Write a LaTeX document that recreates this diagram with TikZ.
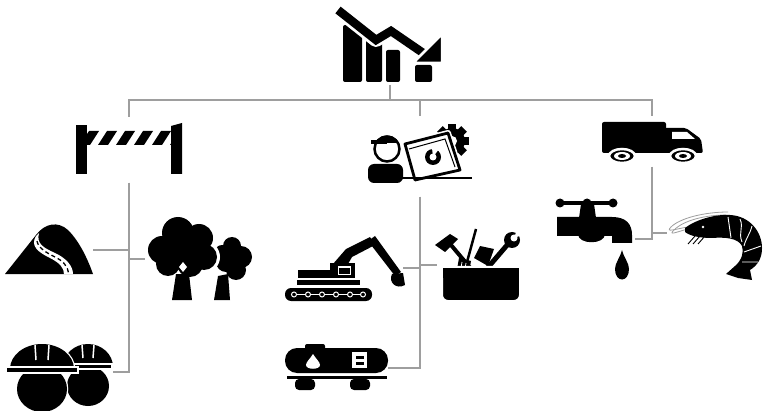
\documentclass[tikz,border=0pt]{standalone}
\usepackage{tikz}
\usetikzlibrary{positioning}
\definecolor{linkgray}{RGB}{158,158,158}

\begin{document}
\begin{tikzpicture}[
  x=1pt, y=-1pt,
  ico/.style={rectangle, inner sep=0pt, outer sep=0pt},
  link/.style={draw=linkgray, line width=2.2pt},
  halo/.style={draw=white, line width=2.5pt}
]
\useasboundingbox[fill=white] (0,0) rectangle (767,411);

% icon frames, used as anchors for the links
\node[ico, minimum width=104pt, minimum height=80pt] (chart)   at (390,45)    {};
\node[ico, minimum width=106pt, minimum height=66pt] (barrier) at (129,150)   {};
\node[ico, minimum width=104pt, minimum height=81pt] (worker)  at (420,156.5) {};
\node[ico, minimum width=101pt, minimum height=51pt] (truck)   at (652,141.5) {};
\node[ico, minimum width=88pt,  minimum height=56pt] (road)    at (49,250)    {};
\node[ico, minimum width=107pt, minimum height=84pt] (trees)   at (198.5,259) {};
\node[ico, minimum width=110pt, minimum height=66pt] (helmets) at (58,372)    {};
\node[ico, minimum width=120pt, minimum height=66pt] (excav)   at (343,268)   {};
\node[ico, minimum width=86pt,  minimum height=76pt] (tools)   at (480,265)   {};
\node[ico, minimum width=104pt, minimum height=46pt] (tanker)  at (336,368)   {};
\node[ico, minimum width=80pt,  minimum height=90pt] (tap)     at (595,239)   {};
\node[ico, minimum width=94pt,  minimum height=70pt] (shrimp)  at (714,233)   {};
\coordinate (bus) at (390,100);

\draw[link] (chart.south) -- (bus);
\draw[link] (barrier.north) |- (bus);
\draw[link] (worker.north) |- (bus);
\draw[link] (truck.north) |- (bus);
\draw[link] (barrier.south) |- (road.east);
\draw[link] (barrier.south) |- (trees.west);
\draw[link] (barrier.south) |- (helmets.east);
\draw[link] (worker.south) |- (excav.east);
\draw[link] (worker.south) |- (tools.west);
\draw[link] (worker.south) |- (tanker.east);
\draw[link] (truck.south) |- (tap.east);
\draw[link] (truck.south) |- (shrimp.west);

% falling chart
\fill[rounded corners=2pt] (343,25) rectangle (362,82);
\fill[rounded corners=2pt] (366,40) rectangle (382,82);
\fill[rounded corners=2pt] (386,50) rectangle (400,82);
\fill[rounded corners=2pt] (415,65) rectangle (432,82);
\draw[white, line width=14pt, line join=round] (338,10) -- (376,40) -- (391,31) -- (424,54);
\draw[line width=8.5pt] (338,10) -- (376,40) -- (391,31) -- (426,55);
\filldraw[fill=black, halo] (442,34) -- (442,63) -- (413,63) -- cycle;

% barrier
\fill (76,125) rectangle (87,174);
\fill (171,126) -- (182,123) -- (182,174) -- (171,174) -- cycle;
\begin{scope}
  \clip (87,131) rectangle (171,145);
  \foreach \a in {80,98,116,134,152,170}
    \fill (\a,145) -- (\a+10,145) -- (\a+19,131) -- (\a+9,131) -- cycle;
\end{scope}

% engineer at laptop
\fill (452,141) circle (13pt);
\foreach \t in {0,45,...,315}
  \fill[rotate around={\t:(452,141)}] (448,124) rectangle (456,131);
\fill[white] (452,141) circle (5pt);
\filldraw[fill=white, draw=white, line width=6pt, line join=round] (405,144) -- (448,133) -- (460,170) -- (415,180) -- cycle;
\filldraw[fill=white, draw=black, line width=2.8pt, line join=round] (405,144) -- (448,133) -- (460,170) -- (415,180) -- cycle;
\draw[line width=1pt] (409,149) -- (445,139) -- (455,167);
\fill (433,157) circle (8pt);
\fill[white] (433,157) circle (3.5pt);
\fill[white] (433,157) -- (432,148) -- (439,149) -- cycle;
\draw[line width=2pt] (398,178) -- (472,178);
\fill[rounded corners=6pt] (368,164) rectangle (403,183);
\filldraw[fill=white, draw=black, line width=2.5pt] (387,149) circle (12.5pt);
\begin{scope}
  \clip (387,149) circle (13.5pt);
  \fill (370,132) rectangle (404,143);
\end{scope}
\fill (371,140) rectangle (387,144);

% truck
\fill[rounded corners=2pt] (602,122) rectangle (666,153);
\fill[rounded corners=2pt] (662,128) -- (686,128) -- (701,139) -- (703,153) -- (662,153) -- cycle;
\fill[white] (672,132) -- (687,132) -- (695,139) -- (672,139) -- cycle;
\foreach \x in {622,683} {
  \filldraw[fill=black, halo] (\x,156) ellipse (13pt and 7pt);
  \fill[white] (\x,156) ellipse (8pt and 4pt);
  \fill (\x,156) ellipse (4pt and 2pt);
}

% hill road
\fill (5,274) -- (36,235) .. controls (45,223) and (58,221) .. (68,230) .. controls (80,242) and (88,260) .. (93,274) -- cycle;
\fill[white] (36,236) .. controls (30,246) and (38,252) .. (50,258) .. controls (60,263) and (64,268) .. (64,274) -- (73,274) .. controls (73,266) and (66,258) .. (55,253) .. controls (44,248) and (36,244) .. (39,233) -- cycle;
\draw[line width=1.3pt, dash pattern=on 4pt off 3pt] (37,241) .. controls (38,248) and (47,253) .. (55,257) .. controls (63,261) and (68,266) .. (68.5,274);

% trees
\foreach \x/\y/\r in {232/246/9, 241/257/11, 226/262/10, 236/270/10, 222/252/7}
  \fill (\x,\y) circle (\r pt);
\fill (218,276) -- (214,300) -- (230,300) -- (228,274) -- cycle;
\foreach \x/\y/\r in {162/250/14, 178/233/16, 199/238/14, 204/257/13, 168/264/12, 190/264/13, 184/250/16}
  \fill[white] (\x,\y) circle (\r pt + 3pt);
\foreach \x/\y/\r in {162/250/14, 178/233/16, 199/238/14, 204/257/13, 168/264/12, 190/264/13, 184/250/16}
  \fill (\x,\y) circle (\r pt);
\fill (176,274) -- (172,300) -- (192,300) -- (189,274) -- cycle;
\fill[white] (183,262) -- (187,267) -- (183,272) -- (179,267) -- cycle;

% workers in helmets
\fill (88,386) ellipse (21pt and 20pt);
\fill (63,367) arc[start angle=180, end angle=0, x radius=25pt, y radius=23pt] -- cycle;
\filldraw[fill=black, draw=white, line width=1.2pt] (60,364) rectangle (112,369);
\draw[white, line width=1.5pt] (82,345) -- (83,358) (94,345) -- (93,358);
\filldraw[fill=white, halo] (42,389) ellipse (25pt and 23pt);
\filldraw[fill=white, halo] (10,369) arc[start angle=180, end angle=0, x radius=32pt, y radius=25pt] -- cycle;
\fill (42,389) ellipse (25pt and 23pt);
\fill (10,369) arc[start angle=180, end angle=0, x radius=32pt, y radius=25pt] -- cycle;
\filldraw[fill=black, draw=white, line width=1.2pt] (6,367) rectangle (78,373);
\draw[white, line width=1.5pt] (35,345) -- (36,360) (49,345) -- (48,360);

% excavator
\fill[rounded corners=6pt] (285,288) rectangle (372,301);
\draw[white, line width=1pt] (294,294.5) -- (363,294.5);
\foreach \x in {294,308,322,336,350,363}
  \filldraw[fill=black, draw=white, line width=1pt] (\x,294.5) circle (2.5pt);
\fill (297,280) rectangle (360,285);
\fill (298,270) rectangle (331,278);
\fill (330,263) rectangle (355,278);
\draw[white, line width=1pt] (338,267) rectangle (350,274);
\fill (333,264) -- (346,249) -- (370,237) -- (375,245) -- (352,257) -- (348,264) -- cycle;
\fill (368,241) -- (375,236) -- (401,272) -- (395,276) -- cycle;
\fill (392,274) .. controls (388,282) and (396,290) .. (405,285) -- (403,273) -- cycle;

% toolbox
\fill (435,245) -- (450,234) -- (458,239) -- (445,252) -- cycle;
\draw[line width=4pt] (451,245) -- (472,270);
\draw[line width=2.5pt] (476,229) -- (467,262);
\fill (459,258) -- (471,261) -- (468,278) -- (456,275) -- cycle;
\draw[white, line width=0.8pt] (462,262) -- (460,274) (466,263) -- (464,275);
\fill (474,258) -- (480,246) -- (494,249) -- (488,266) -- cycle;
\draw[line width=5pt] (484,272) -- (508,244);
\fill (512,240) circle (8pt);
\fill[white] (514,238) circle (3.5pt);
\fill[white] (514,238) -- (518,227) -- (525,234) -- cycle;
\filldraw[fill=black, draw=white, line width=2pt, rounded corners=6pt] (442,267) rectangle (520,301);
\fill (443,268) rectangle (519,278);

% tank wagon
\fill[rounded corners=12pt] (285,348) rectangle (388,373);
\fill[rounded corners=2pt] (305,344) rectangle (325,350);
\fill[white] (313,354) .. controls (316,359) and (320,362) .. (320,365) .. controls (320,370) and (306,370) .. (306,365) .. controls (306,362) and (310,359) .. (313,354);
\fill[white] (352,352) rectangle (367,368);
\fill (356,356) rectangle (364,359);
\fill (356,362) rectangle (364,365);
\fill (287,376) rectangle (387,379);
\fill[rounded corners=4pt] (295,379) rectangle (315,390);
\fill[rounded corners=4pt] (350,379) rectangle (370,390);

% water tap
\draw[line width=4pt] (563,203) -- (610,203);
\foreach \x in {560,587,613}
  \fill (\x,203) circle (4.5pt);
\fill (581,204) -- (594,204) -- (596,218) -- (579,218) -- cycle;
\fill (557,217) -- (612,217) .. controls (626,217) and (632,224) .. (632,235) -- (632,243) -- (612,243) -- (612,236) -- (557,236) -- cycle;
\fill (578,234) .. controls (578,245) and (605,245) .. (605,234) -- cycle;
\fill (622,250) .. controls (624,258) and (629,263) .. (629,269) .. controls (629,283) and (615,283) .. (615,269) .. controls (615,263) and (620,258) .. (622,250);

% shrimp
\draw[linkgray, line width=0.8pt] (688,227) .. controls (675,229) and (665,233) .. (671,227) .. controls (680,218) and (705,212) .. (728,212);
\draw[linkgray, line width=0.8pt] (688,229) .. controls (676,232) and (668,236) .. (674,230) .. controls (684,220) and (706,215) .. (726,215);
\foreach \x in {695,700,705}
  \draw[line width=0.9pt] (\x,236) -- (\x-7,244);
\fill (685,228) .. controls (695,220) and (715,214) .. (730,215) .. controls (750,216) and (762,232) .. (762,248) .. controls (762,258) and (758,265) .. (750,270) -- (752,280) -- (738,278) -- (726,274) -- (735,266) .. controls (742,260) and (744,252) .. (742,246) .. controls (738,238) and (725,237) .. (712,238) .. controls (700,238) and (690,236) .. (685,232) -- cycle;
\draw[white, line width=0.9pt] (728,217) -- (731,238) (740,219) .. controls (744,228) and (738,232) .. (742,242) (752,226) .. controls (750,234) and (746,238) .. (744,246) (761,246) -- (744,252) (758,262) -- (742,262);
\fill[white] (703,227) circle (1.3pt);
\end{tikzpicture}
\end{document}
